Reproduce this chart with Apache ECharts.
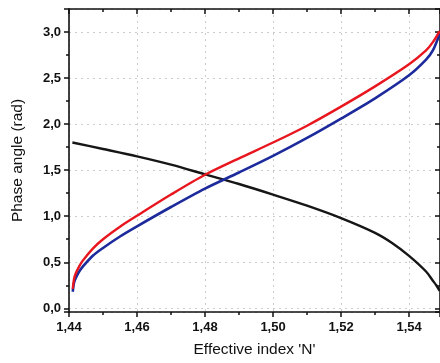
<!DOCTYPE html>
<html>
<head>
<meta charset="utf-8">
<script src="https://cdn.jsdelivr.net/npm/echarts@6/dist/echarts.min.js"></script>
<style>
  html, body { margin: 0; padding: 0; background: #fff; }
  #chart { width: 440px; height: 363px; }
</style>
</head>
<body>
<div id="chart"></div>
<script>
// effective index N
const indexN = [1.4411, 1.4415, 1.4420, 1.4430, 1.4440, 1.4470, 1.4500, 1.4550, 1.4600,
  1.4700, 1.4800, 1.4900, 1.5000, 1.5100, 1.5200, 1.5300, 1.5400, 1.5450, 1.5470, 1.5490];
// phase angles (rad)
const redPhase = [0.21, 0.32, 0.38, 0.455, 0.515, 0.648, 0.75, 0.886, 1.005,
  1.235, 1.45, 1.628, 1.80, 1.983, 2.19, 2.41, 2.65, 2.80, 2.89, 3.01];
const bluePhase = [0.18, 0.28, 0.33, 0.40, 0.45, 0.57, 0.655, 0.78, 0.89,
  1.10, 1.30, 1.475, 1.655, 1.85, 2.06, 2.28, 2.53, 2.70, 2.80, 2.98];
const blackN = [1.4410, 1.4500, 1.4600, 1.4700, 1.4800, 1.4900, 1.5000, 1.5100,
  1.5200, 1.5300, 1.5350, 1.5400, 1.5450, 1.5470, 1.5480, 1.5490];
const blackPhase = [1.80, 1.73, 1.65, 1.56, 1.455, 1.35, 1.235, 1.115,
  0.98, 0.82, 0.71, 0.57, 0.40, 0.30, 0.25, 0.19];

const chart = echarts.init(document.getElementById('chart'));

const fontFamily = 'Liberation Sans, Arial, sans-serif';
const axisLine = { show: true, onZero: false, lineStyle: { color: '#111', width: 1.6 } };
const gridLine = { show: true, lineStyle: { color: '#cccccc', width: 1, type: [2, 4] } };
const tickStyle = { color: '#111', width: 1.5 };
const pair = (xs, ys) => xs.map((x, i) => [x, ys[i]]);

chart.setOption({
  animation: false,
  grid: { left: 69, right: -1, top: 9, bottom: 50 },
  xAxis: [
    {
      type: 'value',
      min: 1.44,
      max: 1.5491,
      interval: 0.02,
      name: "Effective index 'N'",
      nameLocation: 'middle',
      nameGap: 30,
      nameTextStyle: { fontFamily, fontSize: 15.5, color: '#111' },
      axisLine,
      axisTick: { show: true, inside: false, length: 5, lineStyle: tickStyle },
      minorTick: { show: true, splitNumber: 2, length: 3, lineStyle: tickStyle },
      axisLabel: {
        margin: 9, fontFamily, fontSize: 13, fontWeight: 'bold', color: '#111',
        showMaxLabel: false,
        formatter: (v) => v.toFixed(2).replace('.', ','),
      },
      splitLine: gridLine,
    },
    {
      type: 'value',
      position: 'top',
      min: 1.44,
      max: 1.5491,
      interval: 0.02,
      axisLine,
      axisTick: { show: true, inside: true, length: 5, lineStyle: tickStyle },
      minorTick: { show: true, splitNumber: 2, length: 3, lineStyle: tickStyle },
      axisLabel: { show: false },
      splitLine: { show: false },
    },
  ],
  yAxis: [
    {
      type: 'value',
      min: -0.04,
      max: 3.25,
      splitNumber: 5,
      name: 'Phase angle (rad)',
      nameLocation: 'middle',
      nameGap: 43,
      nameTextStyle: { fontFamily, fontSize: 15.5, color: '#111' },
      axisLine,
      axisTick: { show: true, inside: false, length: 5, lineStyle: tickStyle },
      minorTick: { show: true, splitNumber: 2, length: 3, lineStyle: tickStyle },
      axisLabel: {
        margin: 8, fontFamily, fontSize: 13, fontWeight: 'bold', color: '#111',
        showMinLabel: false, showMaxLabel: false,
        formatter: (v) => v.toFixed(1).replace('.', ','),
      },
      splitLine: gridLine,
    },
    {
      type: 'value',
      position: 'right',
      min: -0.04,
      max: 3.25,
      splitNumber: 5,
      axisLine,
      axisTick: { show: true, inside: true, length: 5, lineStyle: tickStyle },
      minorTick: { show: true, splitNumber: 2, length: 3, lineStyle: tickStyle },
      axisLabel: { show: false },
      splitLine: { show: false },
    },
  ],
  series: [
    {
      name: 'black',
      type: 'line',
      data: pair(blackN, blackPhase),
      smooth: 0.3,
      showSymbol: false,
      lineStyle: { color: '#161616', width: 2.4 },
    },
    {
      name: 'blue',
      type: 'line',
      data: pair(indexN, bluePhase),
      smooth: 0.3,
      showSymbol: false,
      lineStyle: { color: '#1c2a9c', width: 2.6 },
    },
    {
      name: 'red',
      type: 'line',
      data: pair(indexN, redPhase),
      smooth: 0.3,
      showSymbol: false,
      lineStyle: { color: '#e8161e', width: 2.4 },
    },
  ],
});
</script>
</body>
</html>
